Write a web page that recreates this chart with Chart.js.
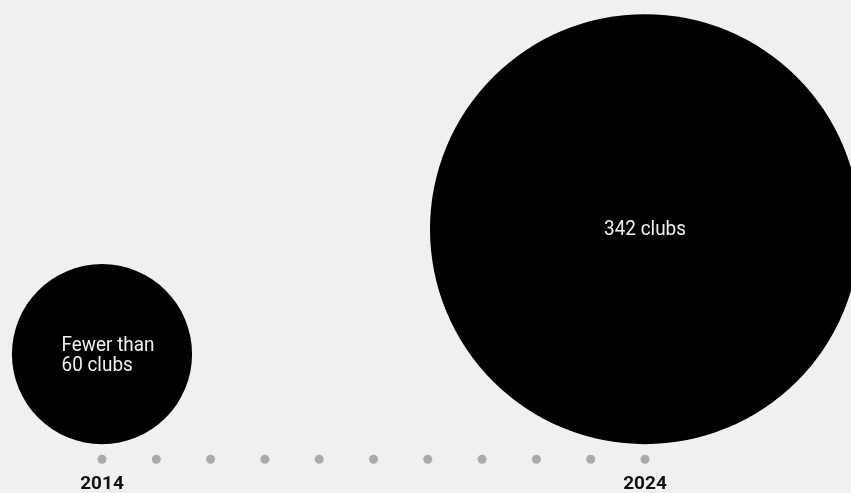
<!DOCTYPE html>
<html>
<head>
<meta charset="utf-8">
<script src="https://cdn.jsdelivr.net/npm/chart.js@4"></script>
<style>
  html, body { margin: 0; padding: 0; background: #f0f0f0; }
  #wrap { width: 851px; height: 493px; }
</style>
</head>
<body>
<div id="wrap"><canvas id="chart"></canvas></div>
<script>
// timeline years (one grey dot each)
const years = [2014, 2015, 2016, 2017, 2018, 2019, 2020, 2021, 2022, 2023, 2024];
const labeledYears = [2014, 2024];

// number of clubs
const clubYears = [2014, 2024];
const clubCounts = [60, 342];
const clubText = [['Fewer than', '60 clubs'], ['342 clubs']];

const FONT = "Roboto, 'Liberation Sans', sans-serif";
const MAX_RADIUS = 215;
const BASELINE_GAP = 15;

/**
 * 원 그리기 (면적 ∝ 클럽 수)
 */
const circlesPlugin = {
  id: 'clubCircles',
  beforeDatasetsDraw(chart) {
    const { ctx, scales: { x, y } } = chart;
    const maxCount = Math.max(...clubCounts);
    const base = y.getPixelForValue(0) - BASELINE_GAP;

    ctx.save();
    clubYears.forEach((year, i) => {
      const r = MAX_RADIUS * Math.sqrt(clubCounts[i] / maxCount);
      const cx = x.getPixelForValue(year);
      const cy = base - r;

      ctx.beginPath();
      ctx.arc(cx, cy, r, 0, Math.PI * 2);
      ctx.fillStyle = '#000';
      ctx.fill();

      // 글자 (살짝 좁게)
      const lines = clubText[i];
      const lineH = 20;
      const squeeze = 0.9;
      ctx.save();
      ctx.translate(cx, cy);
      ctx.scale(squeeze, 1);
      ctx.font = `21px ${FONT}`;
      ctx.fillStyle = '#f0f0f0';
      ctx.textBaseline = 'middle';
      if (lines.length === 1) {
        ctx.textAlign = 'center';
        ctx.fillText(lines[0], 0, 1);
      } else {
        const w = Math.max(...lines.map(l => ctx.measureText(l).width));
        ctx.textAlign = 'left';
        const top = -(lines.length - 1) * lineH / 2;
        lines.forEach((l, j) => ctx.fillText(l, 6 / squeeze - w / 2, top + j * lineH + 2));
      }
      ctx.restore();
    });
    ctx.restore();
  }
};

new Chart(document.getElementById('chart'), {
  type: 'scatter',
  data: {
    datasets: [{
      data: years.map(yr => ({ x: yr, y: 0 })),
      pointRadius: 4.5,
      pointHoverRadius: 4.5,
      backgroundColor: '#aaaaaa',
      borderWidth: 0,
      clip: false
    }]
  },
  options: {
    responsive: true,
    maintainAspectRatio: false,
    animation: false,
    layout: { padding: { left: 102, right: 206, top: 0, bottom: -17 } },
    plugins: {
      legend: { display: false },
      tooltip: { enabled: false }
    },
    scales: {
      x: {
        type: 'linear',
        min: 2014,
        max: 2024,
        grid: { display: false, drawTicks: false },
        border: { display: false },
        ticks: {
          stepSize: 1,
          autoSkip: false,
          maxRotation: 0,
          padding: 14,
          color: '#111',
          font: { family: FONT, size: 19, weight: 'bold' },
          callback: v => labeledYears.includes(v) ? String(v) : ''
        }
      },
      y: {
        display: false,
        min: 0,
        max: 1
      }
    }
  },
  plugins: [circlesPlugin]
});
</script>
</body>
</html>
